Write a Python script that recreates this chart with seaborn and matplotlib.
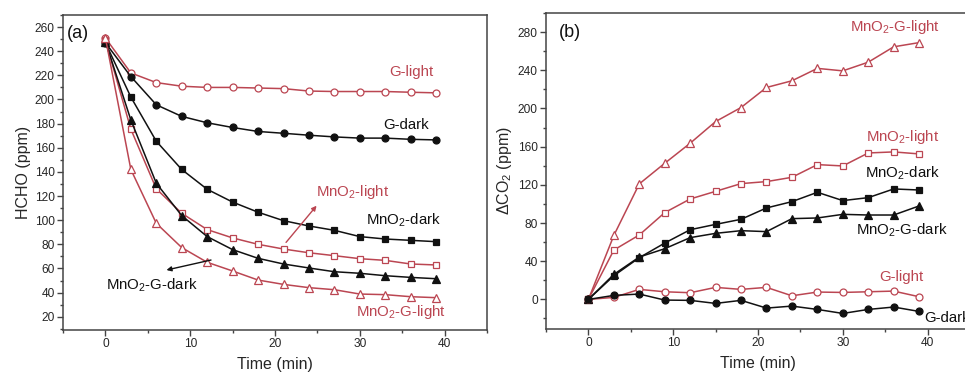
import numpy as np
import pandas as pd
import matplotlib
matplotlib.use("Agg")
import matplotlib.pyplot as plt
import seaborn as sns
from matplotlib.ticker import MultipleLocator

# Sampling times (min)
time_min = [0, 3, 6, 9, 12, 15, 18, 21, 24, 27, 30, 33, 36, 39]

# (a) HCHO concentration (ppm)
hcho_g_light = [251, 222, 214, 211, 210, 210, 209.5, 209, 207, 206.6, 206.6, 206.6, 206, 205.5]
hcho_g_dark = [247, 219, 195.6, 186, 180.7, 176.8, 173.5, 172, 170.4, 169, 168, 168, 167, 166.5]
hcho_mno2_dark = [247, 202, 165.4, 142, 125.6, 115, 106.6, 99.6, 95.2, 91.6, 86.4, 84.4, 83.3, 82.2]
hcho_mno2_light = [249, 175.4, 126, 105.7, 92.2, 85.3, 80, 76.1, 73, 70.6, 68.1, 66.7, 63.7, 62.9]
hcho_mno2g_dark = [248, 183, 130.6, 103.8, 86.4, 75.6, 68.4, 63.7, 60.4, 57.3, 56, 54, 52.6, 51.5]
hcho_mno2g_light = [251, 142, 97.4, 77.3, 65.1, 57.9, 50.4, 46.8, 44.1, 42.4, 38.8, 38.3, 36.6, 35.8]

# (b) CO2 increase (ppm)
co2_mno2g_light = [0, 67, 121, 142.6, 163.6, 186.3, 201, 222, 229, 242, 239.4, 248.5, 264.6, 269]
co2_mno2_light = [0, 51.7, 67.5, 90.9, 105.2, 113.2, 121.3, 123.4, 127.9, 141.2, 139.8, 153.4, 154.5, 152.4]
co2_mno2_dark = [0, 24.8, 43.7, 59, 73, 78.6, 83.9, 95.8, 102.4, 112.2, 103.5, 106.6, 115.7, 114.6]
co2_mno2g_dark = [0, 26.2, 44.4, 53.1, 64.7, 69.2, 72, 71, 84.6, 85.3, 89.1, 88.4, 88.4, 97.9]
co2_g_light = [0, 2.1, 10.5, 8, 7, 12.6, 10.5, 12.6, 3.8, 7.7, 7.3, 8, 8.7, 2.8]
co2_g_dark = [0, 4.2, 5.6, -0.7, -1, -4.2, -1, -9.1, -7, -10.5, -14.7, -10.5, -8, -12.6]

RED = "#bb4652"
BLACK = "#111111"
SPINE = "#444444"

sns.set_theme(style="ticks")
plt.rcParams["font.family"] = ["Liberation Sans", "DejaVu Sans"]
plt.rcParams["mathtext.fontset"] = "custom"
plt.rcParams["mathtext.rm"] = "Liberation Sans"
plt.rcParams["mathtext.it"] = "Liberation Sans"

fig = plt.figure(figsize=(9.65, 3.76), dpi=100)
ax_a = fig.add_axes([0.0653, 0.1223, 0.4394, 0.8378])
ax_b = fig.add_axes([0.5658, 0.1250, 0.4394, 0.8404])

# series: (values, marker, color, open marker)
series_a = [
    (hcho_g_light, "o", RED, True),
    (hcho_g_dark, "o", BLACK, False),
    (hcho_mno2_dark, "s", BLACK, False),
    (hcho_mno2_light, "s", RED, True),
    (hcho_mno2g_dark, "^", BLACK, False),
    (hcho_mno2g_light, "^", RED, True),
]
series_b = [
    (co2_mno2g_light, "^", RED, True),
    (co2_mno2_light, "s", RED, True),
    (co2_mno2_dark, "s", BLACK, False),
    (co2_mno2g_dark, "^", BLACK, False),
    (co2_g_light, "o", RED, True),
    (co2_g_dark, "o", BLACK, False),
]


def draw(ax, series):
    for vals, mk, col, hollow in series:
        df = pd.DataFrame({"t": time_min, "v": vals})
        sns.lineplot(data=df, x="t", y="v", ax=ax, color=col, lw=1.1,
                     marker=mk, markersize=5.0 if mk != "^" else 5.5,
                     markerfacecolor="white" if hollow else col,
                     markeredgecolor=col, markeredgewidth=0.9,
                     estimator=None, sort=False)


draw(ax_a, series_a)
draw(ax_b, series_b)


def style(ax, ylim, ymajor, yminor, ylabel):
    ax.set_xlim(-5, 45)
    ax.set_ylim(*ylim)
    ax.xaxis.set_major_locator(MultipleLocator(10))
    ax.xaxis.set_minor_locator(MultipleLocator(5))
    ax.yaxis.set_major_locator(MultipleLocator(ymajor))
    ax.yaxis.set_minor_locator(MultipleLocator(yminor))
    ax.tick_params(axis="both", which="major", direction="out", length=4,
                   width=1.0, color=SPINE, labelsize=8.6, pad=2)
    ax.tick_params(axis="both", which="minor", direction="out", length=2.5,
                   width=1.0, color=SPINE)
    for sp in ax.spines.values():
        sp.set_visible(True)
        sp.set_color(SPINE)
        sp.set_linewidth(1.1)
    ax.set_xlabel("Time (min)", fontsize=11.5, labelpad=5)
    ax.set_ylabel(ylabel, fontsize=11.5, labelpad=3)


style(ax_a, (9, 270), 20, 10, "HCHO (ppm)")
style(ax_b, (-31, 300), 40, 20, r"$\Delta$CO$_2$ (ppm)")

# panel (a) annotations
kw = dict(fontsize=10.8, ha="center", va="center")
ax_a.text(-4.5, 255, "(a)", fontsize=13, ha="left", va="center", color=BLACK)
ax_a.text(36.1, 222.7, "G-light", color=RED, **kw)
ax_a.text(35.5, 179, "G-dark", color=BLACK, **kw)
ax_a.text(29.1, 123, r"MnO$_2$-light", color=RED, **kw)
ax_a.text(35.1, 99.6, r"MnO$_2$-dark", color=BLACK, **kw)
ax_a.text(5.5, 46.3, r"MnO$_2$-G-dark", color=BLACK, **kw)
ax_a.text(34.9, 24, r"MnO$_2$-G-light", color=RED, **kw)
ax_a.annotate("", xy=(24.9, 112), xytext=(21.3, 81.6),
              arrowprops=dict(arrowstyle="-|>", color=RED, lw=1.0,
                              mutation_scale=7, shrinkA=0, shrinkB=0))
ax_a.annotate("", xy=(7.2, 58.7), xytext=(12.45, 67),
              arrowprops=dict(arrowstyle="-|>", color=BLACK, lw=1.0,
                              mutation_scale=7, shrinkA=0, shrinkB=0))

# panel (b) annotations
ax_b.text(-3.5, 280, "(b)", fontsize=13, ha="left", va="center", color=BLACK)
ax_b.text(36.1, 285.8, r"MnO$_2$-G-light", color=RED, **kw)
ax_b.text(37, 170.5, r"MnO$_2$-light", color=RED, **kw)
ax_b.text(37, 132, r"MnO$_2$-dark", color=BLACK, **kw)
ax_b.text(37, 72.6, r"MnO$_2$-G-dark", color=BLACK, **kw)
ax_b.text(36.9, 23, "G-light", color=RED, **kw)
ax_b.text(39.6, -20, "G-dark", color=BLACK, fontsize=10.8, ha="left", va="center")

fig.savefig("out.png", dpi=100)
